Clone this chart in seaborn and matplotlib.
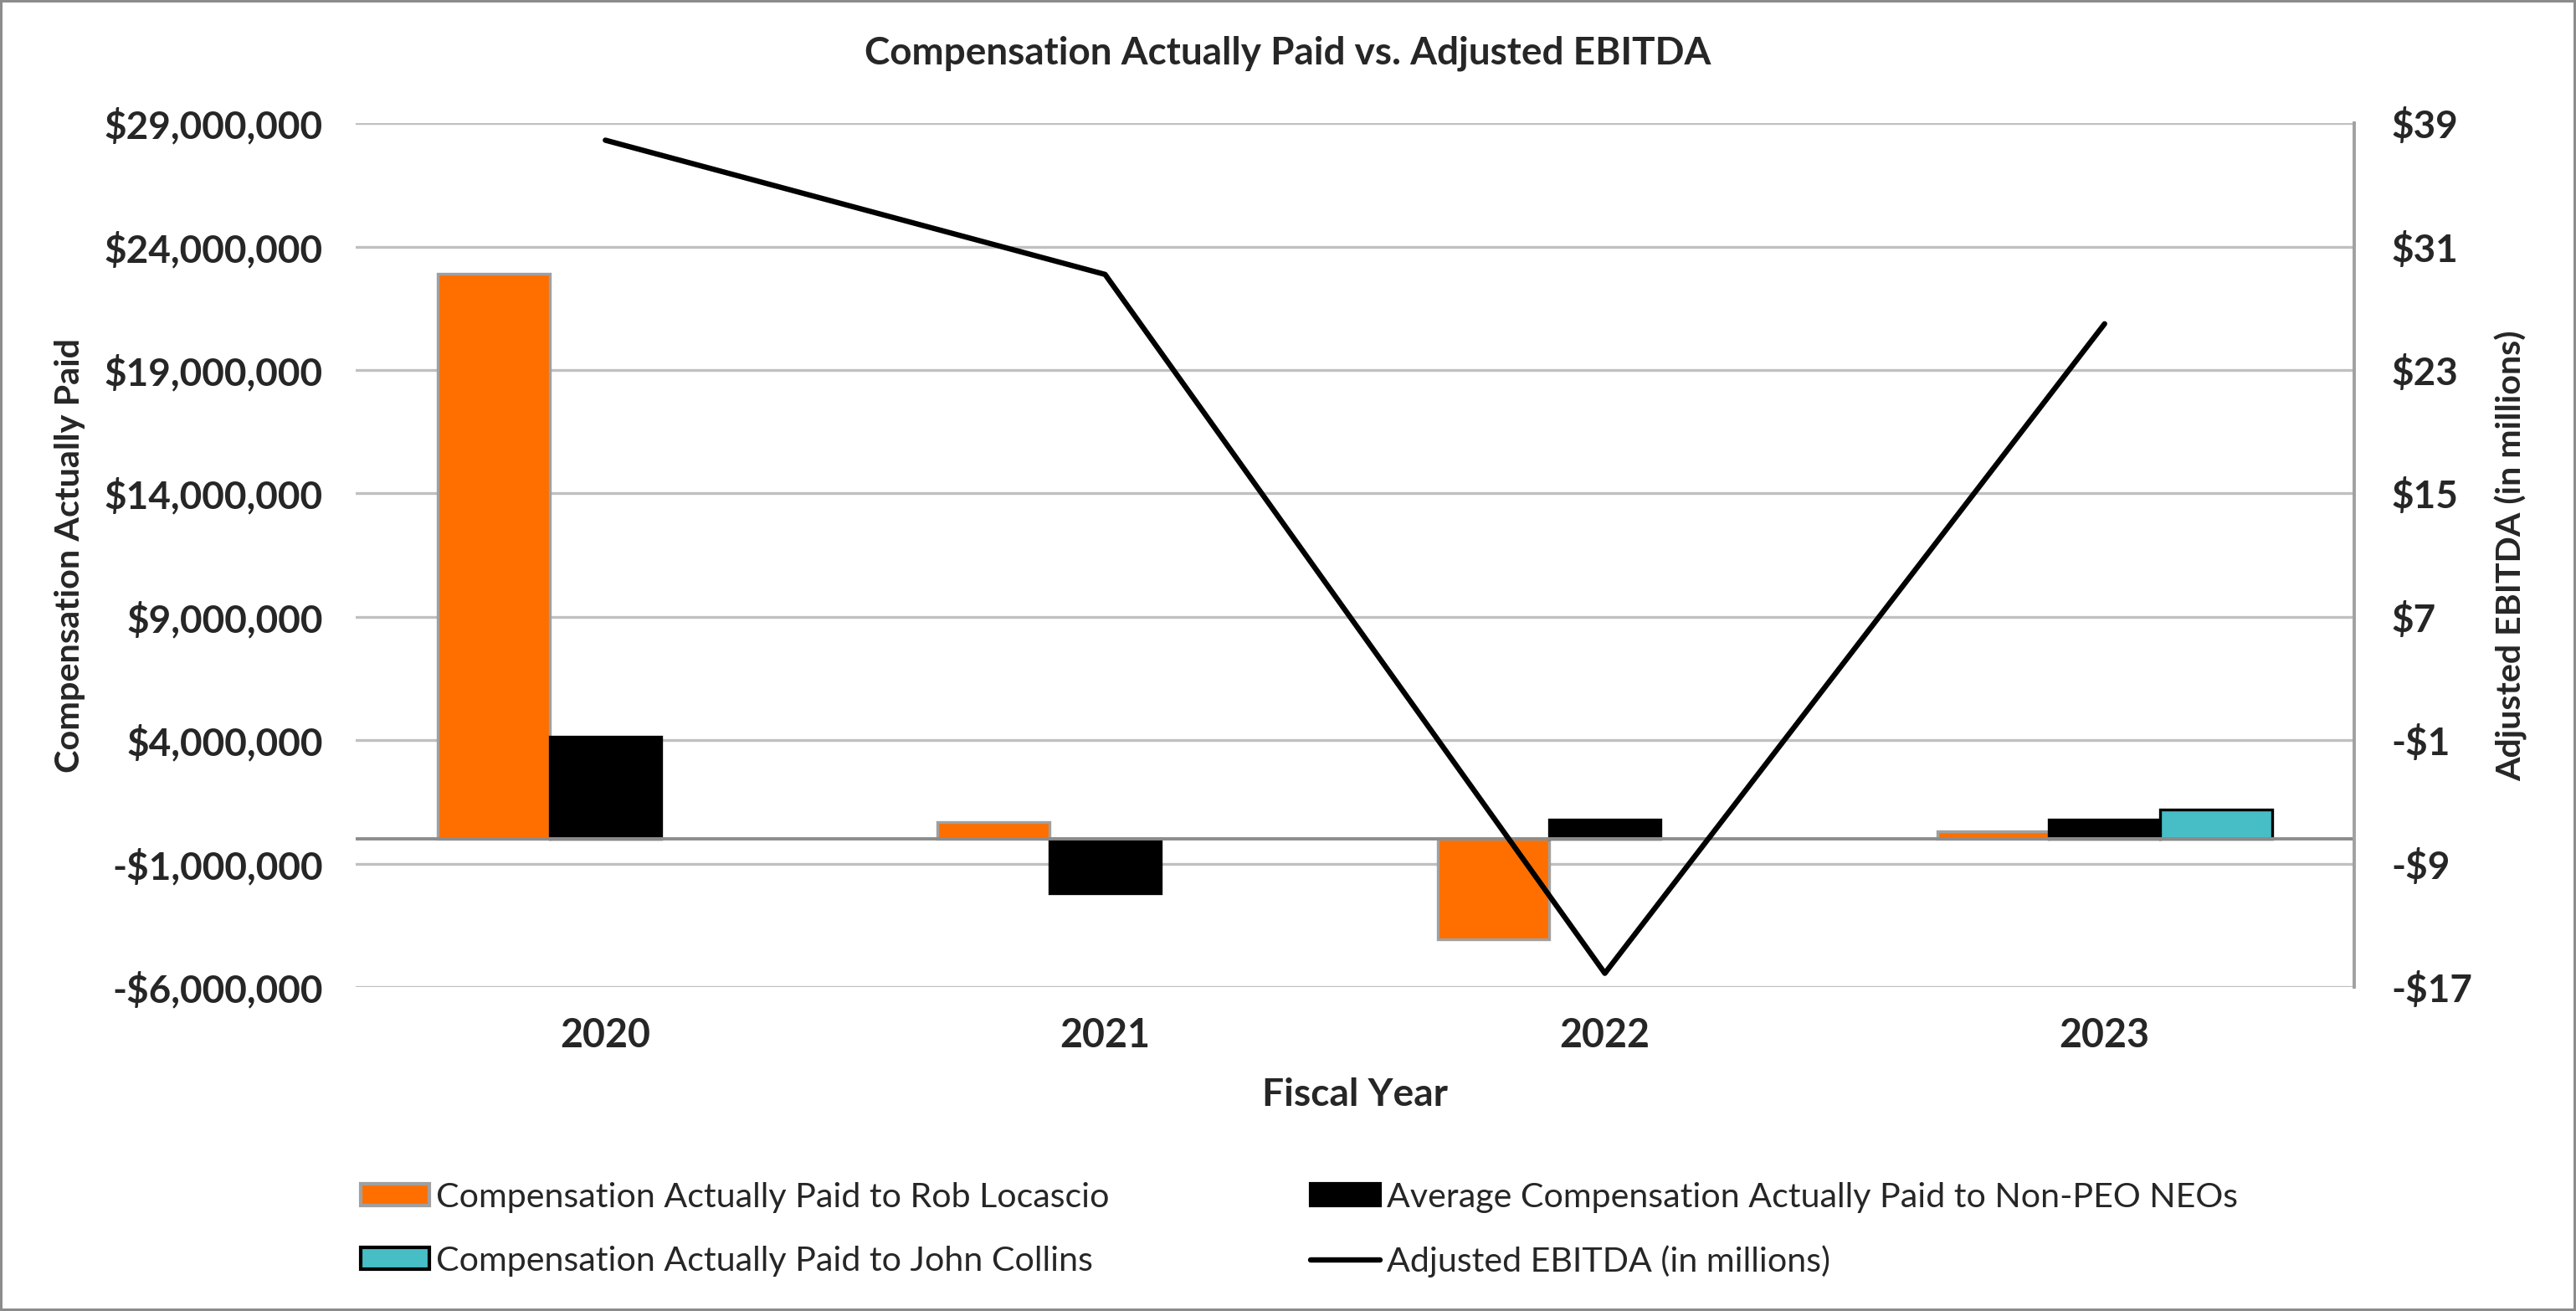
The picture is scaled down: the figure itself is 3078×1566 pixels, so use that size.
import matplotlib
matplotlib.use("Agg")
import matplotlib.pyplot as plt
import matplotlib.ticker as mticker
from matplotlib.lines import Line2D
from matplotlib.patches import Patch
import seaborn as sns
import pandas as pd

years = ["2020", "2021", "2022", "2023"]
cap_locascio = [22900000, 700000, -4050000, 320000]
cap_non_peo = [4150000, -2200000, 780000, 780000]
cap_collins_years = ["2023"]
cap_collins = [1180000]
ebitda = [37.9, 29.2, -16.1, 26.0]

left_ticks = [-6000000, -1000000, 4000000, 9000000, 14000000, 19000000, 24000000, 29000000]
right_ticks = [-17, -9, -1, 7, 15, 23, 31, 39]

s_loc = "Compensation Actually Paid to Rob Locascio"
s_neo = "Average Compensation Actually Paid to Non-PEO NEOs"
s_col = "Compensation Actually Paid to John Collins"
s_ebitda = "Adjusted EBITDA (in millions)"

ORANGE = "#FF6F00"
TEAL = "#47BDC6"

rows = []
for y, v in zip(years, cap_locascio):
    rows.append({"year": y, "series": s_loc, "value": v})
for y, v in zip(years, cap_non_peo):
    rows.append({"year": y, "series": s_neo, "value": v})
for y, v in zip(cap_collins_years, cap_collins):
    rows.append({"year": y, "series": s_col, "value": v})
df = pd.DataFrame(rows)

sns.set_style("white")
plt.rcParams["font.family"] = ["Lato", "DejaVu Sans"]

fig = plt.figure(figsize=(15.39, 7.83), dpi=200, edgecolor="#8c8c8c", linewidth=2)
ax = fig.add_axes([0.138, 0.247, 0.776, 0.659])

sns.barplot(data=df, x="year", y="value", hue="series", order=years,
            hue_order=[s_loc, s_neo, s_col],
            palette=[ORANGE, "black", TEAL], width=0.67, ax=ax,
            legend=False, saturation=1)

for p in ax.patches:
    fc = matplotlib.colors.to_hex(p.get_facecolor())
    if fc.lower() == ORANGE.lower():
        p.set_edgecolor("#a0a0a0")
    else:
        p.set_edgecolor("black")
    p.set_linewidth(1.2)

ax.set_xlim(-0.5, 3.5)
ax.set_ylim(-6000000, 29000000)
ax.set_yticks(left_ticks)
ax.yaxis.set_major_formatter(mticker.FuncFormatter(
    lambda v, p: f"-${abs(v):,.0f}" if v < 0 else f"${v:,.0f}"))
ax.grid(axis="y", color="#c0c0c0", lw=1.2)
ax.set_axisbelow(True)
ax.axhline(0, color="#8c8c8c", lw=1.4, zorder=1.5)
for s in ["left", "top", "bottom", "right"]:
    ax.spines[s].set_visible(False)
ax.tick_params(axis="both", length=0, labelsize=16.5)
ax.tick_params(axis="y", pad=14)
ax.tick_params(axis="x", labelsize=16.8, pad=13)
for lbl in ax.get_xticklabels() + ax.get_yticklabels():
    lbl.set_fontweight("bold")
ax.set_xlabel("Fiscal Year", fontsize=16.6, fontweight="bold", labelpad=10)
ax.set_ylabel("")
fig.text(0.027, 0.576, "Compensation Actually Paid", rotation=90, ha="center",
         va="center", fontsize=14.9, fontweight="bold")

ax2 = ax.twinx()
ax2.plot(range(len(years)), ebitda, color="black", lw=2.3)
ax2.set_ylim(-17, 39)
ax2.set_yticks(right_ticks)
ax2.yaxis.set_major_formatter(mticker.FuncFormatter(
    lambda v, p: f"-${abs(v):.0f}" if v < 0 else f"${v:.0f}"))
for s in ["left", "top", "bottom"]:
    ax2.spines[s].set_visible(False)
ax2.spines["right"].set_color("#a0a0a0")
ax2.spines["right"].set_linewidth(1.4)
ax2.tick_params(axis="y", length=0, labelsize=16.5, pad=16)
for lbl in ax2.get_yticklabels():
    lbl.set_fontweight("bold")
fig.text(0.975, 0.576, s_ebitda, rotation=90, ha="center", va="center",
         fontsize=14.8, fontweight="bold")

fig.text(0.5, 0.959, "Compensation Actually Paid vs. Adjusted EBITDA",
         ha="center", va="center", fontsize=16.5, fontweight="bold")

handles = [
    Patch(facecolor=ORANGE, edgecolor="#a0a0a0", lw=1.5, label=s_loc),
    Patch(facecolor=TEAL, edgecolor="black", lw=1.5, label=s_col),
    Patch(facecolor="black", edgecolor="black", lw=1.5, label=s_neo),
    Line2D([0], [0], color="black", lw=2.3, label=s_ebitda),
]
fig.legend(handles=handles, loc="center left", bbox_to_anchor=(0.128, 0.062),
           ncol=2, frameon=False, fontsize=14.8, handlelength=2.0,
           handleheight=0.6, handletextpad=0.2, columnspacing=5.85,
           labelspacing=0.95)

fig.savefig("out.png", dpi=200, edgecolor=fig.get_edgecolor())
